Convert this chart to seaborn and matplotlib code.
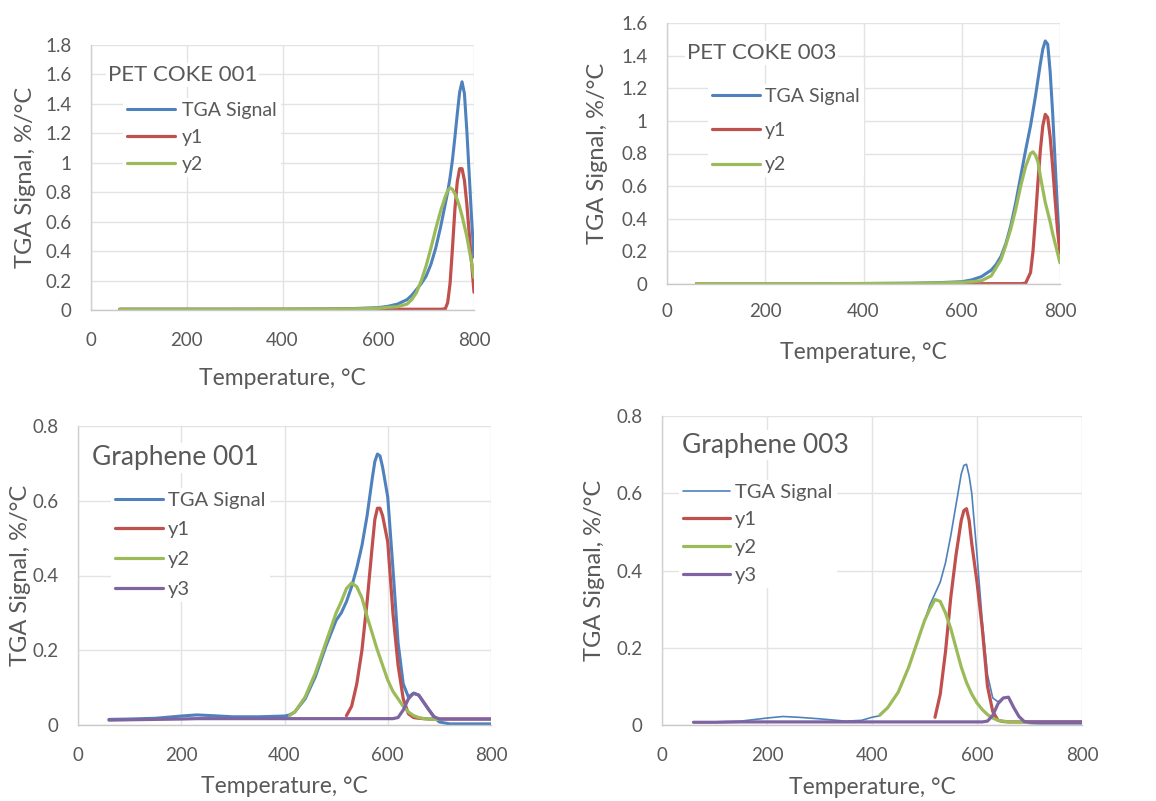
import numpy as np
import pandas as pd
import matplotlib
matplotlib.use("Agg")
import matplotlib.pyplot as plt
import seaborn as sns

# ---------------- data ----------------
SERIES3 = ["TGA Signal", "y1", "y2"]
SERIES4 = ["TGA Signal", "y1", "y2", "y3"]
TITLES = ["PET COKE 001", "PET COKE 003", "Graphene 001", "Graphene 003"]
X_TICKS = [0, 200, 400, 600, 800]
Y_TICKS_PET1 = [0, 0.2, 0.4, 0.6, 0.8, 1, 1.2, 1.4, 1.6, 1.8]
Y_TICKS_PET3 = [0, 0.2, 0.4, 0.6, 0.8, 1, 1.2, 1.4, 1.6]
Y_TICKS_GR = [0, 0.2, 0.4, 0.6, 0.8]

pet_T = [60, 100, 200, 300, 400, 500, 550, 600, 620, 640, 660, 670, 680, 690, 700,
         710, 720, 730, 740, 745, 750, 755, 760, 765, 770, 775, 780, 785, 790, 795, 800]

pet1_tga = [0.005, 0.005, 0.005, 0.005, 0.005, 0.007, 0.01, 0.016, 0.025, 0.04, 0.07, 0.1, 0.14, 0.18, 0.23,
            0.31, 0.42, 0.56, 0.72, 0.8, 0.9, 1.02, 1.17, 1.33, 1.48, 1.55, 1.47, 1.22, 0.92, 0.62, 0.36]
pet1_y1 = [0.005, 0.005, 0.005, 0.005, 0.005, 0.005, 0.005, 0.005, 0.005, 0.005, 0.005, 0.005, 0.005, 0.005, 0.005,
           0.005, 0.005, 0.005, 0.008, 0.05, 0.18, 0.42, 0.68, 0.87, 0.96, 0.96, 0.88, 0.72, 0.52, 0.32, 0.12]
pet1_y2 = [0.004, 0.004, 0.004, 0.004, 0.005, 0.006, 0.008, 0.012, 0.018, 0.022, 0.04, 0.07, 0.12, 0.2, 0.3,
           0.42, 0.55, 0.67, 0.77, 0.81, 0.83, 0.82, 0.79, 0.75, 0.7, 0.64, 0.57, 0.5, 0.41, 0.32, 0.22]

pet3_tga = [0.002, 0.002, 0.002, 0.002, 0.003, 0.005, 0.008, 0.014, 0.025, 0.045, 0.085, 0.12, 0.17, 0.25, 0.36,
            0.5, 0.66, 0.82, 0.97, 1.06, 1.15, 1.25, 1.35, 1.44, 1.49, 1.47, 1.3, 1.05, 0.75, 0.45, 0.19]
pet3_y1 = [0.002, 0.002, 0.002, 0.002, 0.002, 0.002, 0.002, 0.002, 0.002, 0.002, 0.002, 0.002, 0.002, 0.002, 0.002,
           0.002, 0.002, 0.005, 0.07, 0.2, 0.4, 0.62, 0.82, 0.97, 1.04, 1.02, 0.9, 0.72, 0.52, 0.33, 0.19]
pet3_y2 = [0.002, 0.002, 0.002, 0.002, 0.003, 0.004, 0.006, 0.01, 0.014, 0.02, 0.05, 0.1, 0.15, 0.24, 0.34,
           0.46, 0.6, 0.72, 0.8, 0.81, 0.79, 0.75, 0.66, 0.58, 0.5, 0.44, 0.38, 0.31, 0.25, 0.19, 0.13]

nan = float("nan")
gr1_T = [60, 100, 150, 200, 230, 260, 300, 350, 400, 410, 420, 440, 460, 480, 500, 510, 520, 530, 540,
         550, 560, 570, 575, 580, 585, 590, 600, 610, 620, 630, 640, 650, 660, 670, 680, 690, 700, 720, 750, 800]
gr1_tga = [0.015, 0.016, 0.018, 0.024, 0.027, 0.025, 0.022, 0.022, 0.024, 0.027, 0.035, 0.07, 0.13, 0.21, 0.28,
           0.3, 0.33, 0.37, 0.42, 0.48, 0.56, 0.66, 0.705, 0.725, 0.72, 0.69, 0.61, 0.42, 0.22, 0.11, 0.075,
           0.085, 0.08, 0.06, 0.04, 0.02, 0.008, 0.003, 0.003, 0.003]
gr1_y1 = [nan, nan, nan, nan, nan, nan, nan, nan, nan, nan, nan, nan, nan, nan, nan, nan,
          0.025, 0.05, 0.11, 0.2, 0.33, 0.48, 0.55, 0.58, 0.58, 0.56, 0.49, 0.3, 0.16, 0.07, 0.03, 0.02, 0.018,
          0.017, 0.016, 0.016, 0.016, 0.016, 0.016, 0.016]
gr1_y2 = [nan, nan, nan, nan, nan, nan, nan, nan, nan,
          0.025, 0.035, 0.075, 0.14, 0.22, 0.3, 0.33, 0.365, 0.38, 0.37, 0.34, 0.29, 0.245, 0.222, 0.2, 0.18,
          0.16, 0.12, 0.09, 0.07, 0.05, 0.035, 0.025, 0.02, 0.017, 0.016, 0.015, 0.015, nan, nan, nan]
gr1_y3 = [0.013, 0.014, 0.015, 0.016, 0.017, 0.017, 0.017, 0.017, 0.017, 0.017, 0.017, 0.017, 0.017, 0.017,
          0.017, 0.017, 0.017, 0.017, 0.017, 0.017, 0.017, 0.017, 0.017, 0.017, 0.017, 0.017, 0.017, 0.017,
          0.02, 0.04, 0.07, 0.085, 0.08, 0.06, 0.04, 0.022, 0.016, 0.016, 0.016, 0.016]

gr3_T = [60, 100, 150, 200, 230, 260, 300, 350, 380, 400, 415, 430, 450, 470, 490, 500, 510, 520, 530, 540,
         550, 560, 570, 575, 580, 585, 590, 600, 610, 620, 630, 640, 650, 660, 670, 680, 690, 700, 720, 750, 800]
gr3_tga = [0.008, 0.008, 0.01, 0.018, 0.022, 0.02, 0.016, 0.01, 0.012, 0.02, 0.024, 0.045, 0.085, 0.15, 0.23,
           0.27, 0.31, 0.34, 0.37, 0.42, 0.49, 0.57, 0.65, 0.672, 0.675, 0.645, 0.6, 0.44, 0.27, 0.13, 0.07,
           0.06, 0.07, 0.07, 0.045, 0.02, 0.008, 0.004, 0.003, 0.003, 0.003]
gr3_y1 = [nan, nan, nan, nan, nan, nan, nan, nan, nan, nan, nan, nan, nan, nan, nan, nan, nan,
          0.02, 0.08, 0.19, 0.33, 0.44, 0.53, 0.555, 0.56, 0.53, 0.47, 0.37, 0.25, 0.1, 0.035, 0.012, 0.009,
          0.008, 0.008, 0.008, 0.008, 0.008, 0.008, 0.008, 0.008]
gr3_y2 = [nan, nan, nan, nan, nan, nan, nan, nan, nan, nan,
          0.026, 0.045, 0.085, 0.15, 0.23, 0.27, 0.3, 0.325, 0.32, 0.29, 0.25, 0.2, 0.15, 0.13, 0.11, 0.095,
          0.08, 0.057, 0.04, 0.027, 0.018, 0.012, 0.01, 0.008, 0.008, 0.008, 0.008, 0.008, nan, nan, nan]
gr3_y3 = [0.007, 0.007, 0.008, 0.008, 0.008, 0.008, 0.008, 0.008, 0.008, 0.008, 0.008, 0.008, 0.008, 0.008,
          0.008, 0.008, 0.008, 0.008, 0.008, 0.008, 0.008, 0.008, 0.008, 0.008, 0.008, 0.008, 0.008, 0.008,
          0.008, 0.01, 0.025, 0.055, 0.07, 0.072, 0.045, 0.022, 0.009, 0.008, 0.008, 0.008, 0.008]

# ---------------- style ----------------
W, H, DPI = 1156, 801, 100
sns.set_theme(style="white")
plt.rcParams["font.family"] = ["Lato", "DejaVu Sans"]
TXT = "#595959"
GRID = "#E3E3E3"
PALETTE = {"TGA Signal": "#4F81BD", "y1": "#C0504D", "y2": "#9BBB59", "y3": "#8064A2"}

fig = plt.figure(figsize=(W / DPI, H / DPI), dpi=DPI)
fig.patch.set_facecolor("white")


def px_axes(l, r, t, b):
    return fig.add_axes([l / W, 1 - b / H, (r - l) / W, (b - t) / H])


def long_df(T, cols, names):
    frames = []
    for name, vals in zip(names, cols):
        frames.append(pd.DataFrame({"T": T, "v": vals, "series": name}))
    return pd.concat(frames, ignore_index=True).dropna()


panels = [
    dict(box=(91, 474, 45, 310), T=pet_T, cols=[pet1_tga, pet1_y1, pet1_y2], names=SERIES3,
         yt=Y_TICKS_PET1, ylim=1.8, xpad=16, xl=(-0.257), yl=(-0.172),
         title=(108, 75, 16), leg=(127, 108, 28.5, 48, 182, 14), lw={"TGA Signal": 2.2}),
    dict(box=(667, 1060, 23, 284), T=pet_T, cols=[pet3_tga, pet3_y1, pet3_y2], names=SERIES3,
         yt=Y_TICKS_PET3, ylim=1.6, xpad=14, xl=(-0.264), yl=(-0.176),
         title=(687, 53, 16), leg=(712, 94, 35.5, 48, 765, 14), lw={"TGA Signal": 2.2}),
    dict(box=(78, 491, 426, 725), T=gr1_T, cols=[gr1_tga, gr1_y1, gr1_y2, gr1_y3], names=SERIES4,
         yt=Y_TICKS_GR, ylim=0.8, xpad=16, xl=(-0.207), yl=(-0.140),
         title=(92, 458, 19), leg=(115, 498, 31.5, 48, 168, 14.5), lw={"TGA Signal": 2.2}),
    dict(box=(662, 1082, 416, 725), T=gr3_T, cols=[gr3_tga, gr3_y1, gr3_y2, gr3_y3], names=SERIES4,
         yt=Y_TICKS_GR, ylim=0.8, xpad=16, xl=(-0.201), yl=(-0.160),
         title=(682, 445, 19), leg=(683, 490, 29.5, 47, 735, 14.5), lw={"TGA Signal": 1.2}),
]

for i, p in enumerate(panels):
    ax = px_axes(*p["box"])
    df = long_df(p["T"], p["cols"], p["names"])
    for name in p["names"]:
        sub = df[df["series"] == name]
        sns.lineplot(data=sub, x="T", y="v", ax=ax, color=PALETTE[name],
                     lw=p["lw"].get(name, 2.3), estimator=None, sort=False,
                     label=name, solid_capstyle="round", solid_joinstyle="round")
    ax.set_xlim(0, 800)
    ax.set_ylim(0, p["ylim"])
    ax.set_xticks(X_TICKS)
    ax.set_yticks(p["yt"])
    ax.set_yticklabels([("%g" % v) for v in p["yt"]])
    ax.grid(True, color=GRID, lw=1.0)
    ax.set_axisbelow(True)
    for s in ["top", "right"]:
        ax.spines[s].set_visible(False)
    ax.spines["left"].set_color("#D0D0D0")
    ax.spines["bottom"].set_color("#C8C8C8")
    ax.spines["left"].set_linewidth(1.0)
    ax.spines["bottom"].set_linewidth(1.0)
    ax.tick_params(axis="both", length=0, labelsize=13.5, colors=TXT)
    ax.tick_params(axis="x", pad=p["xpad"])
    ax.tick_params(axis="y", pad=14)
    ax.set_xlabel("Temperature, °C", fontsize=16.5, color=TXT)
    ax.set_ylabel("TGA Signal, %/°C", fontsize=17, color=TXT)
    ax.xaxis.set_label_coords(0.5, p["xl"])
    ax.xaxis.label.set_verticalalignment("center")
    ax.yaxis.set_label_coords(p["yl"], 0.5)
    ax.yaxis.label.set_verticalalignment("center")

    # title text inside plot
    tx, ty, tfs = p["title"]
    fig.text(tx / W, 1 - ty / H, TITLES[i], fontsize=tfs, color=TXT, ha="left", va="center",
             bbox=dict(facecolor="white", edgecolor="none", pad=1.5), zorder=5)

    # legend
    hx, ry, spacing, hlen, txx, fs = p["leg"]
    fs_px = fs * DPI / 72
    row_h = 0.94 * fs_px
    bp = 0.2
    top_px = ry - row_h / 2 - bp * fs_px + 3
    handles, labels = ax.get_legend_handles_labels()
    leg = ax.legend(handles, labels, loc="upper left",
                    bbox_to_anchor=((hx - bp * fs_px) / W, 1 - top_px / H),
                    bbox_transform=fig.transFigure, borderaxespad=0, borderpad=bp,
                    frameon=True, fancybox=False, framealpha=1, facecolor="white", edgecolor="none",
                    fontsize=fs, labelcolor=TXT, handlelength=hlen / fs_px,
                    handletextpad=(txx - hx - hlen) / fs_px,
                    labelspacing=max(spacing - row_h, 0) / fs_px)

fig.savefig("out.png", dpi=DPI, facecolor="white")
